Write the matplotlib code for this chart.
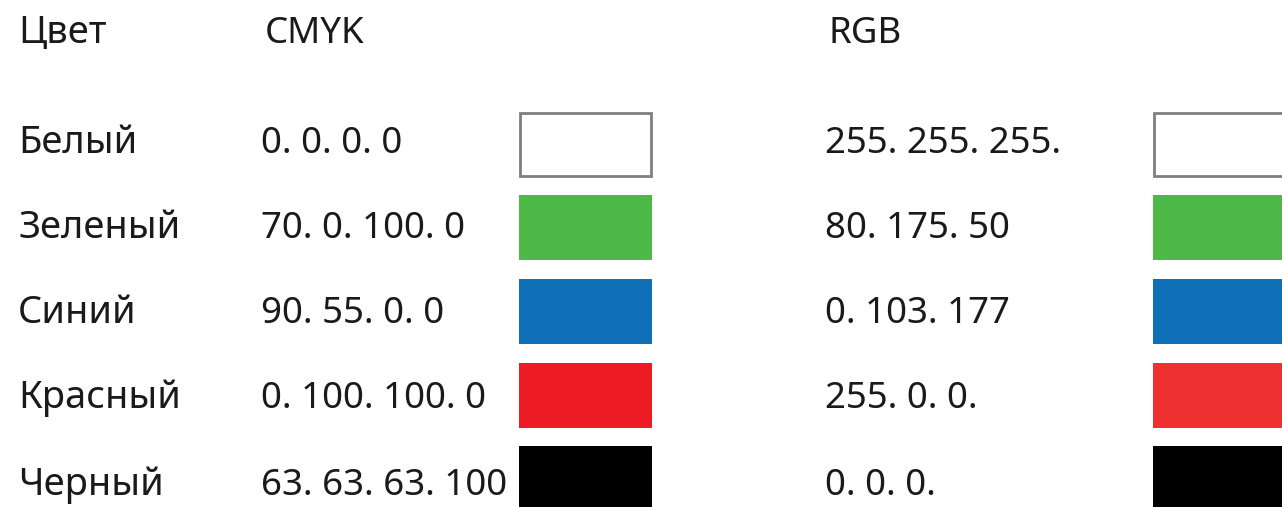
import matplotlib
matplotlib.use("Agg")
import matplotlib.pyplot as plt
from matplotlib.patches import Rectangle

plt.rcParams['font.family'] = ['Noto Sans', 'DejaVu Sans']

headers = ["Цвет", "CMYK", "RGB"]
names = ["Белый", "Зеленый", "Синий", "Красный", "Черный"]
cmyk_values = ["0. 0. 0. 0", "70. 0. 100. 0", "90. 55. 0. 0", "0. 100. 100. 0", "63. 63. 63. 100"]
rgb_values = ["255. 255. 255.", "80. 175. 50", "0. 103. 177", "255. 0. 0.", "0. 0. 0."]
cmyk_colors = ["#FFFFFF", "#4EB848", "#0F6FB7", "#ED1C24", "#000000"]
rgb_colors = ["#FFFFFF", "#4EB848", "#0F6FB7", "#EE3030", "#000000"]

W, H = 1282, 507
fig = plt.figure(figsize=(W / 100, H / 100), dpi=100)
ax = fig.add_axes([0, 0, 1, 1])
ax.set_xlim(0, W)
ax.set_ylim(H, 0)
ax.axis("off")

txt_color = "#1a1a1a"
fs = 26.4
fs_names = 27.4
header_x = [18, 265, 828]
header_fs = [fs_names, fs, fs]
header_base = 43
row_base = [153, 238, 323, 408, 495]
col_name_x, col_cmyk_x, col_rgb_x = 18, 261, 825

for hx, h, hf in zip(header_x, headers, header_fs):
    ax.text(hx, header_base, h, fontsize=hf, color=txt_color, va="baseline", ha="left")

for i, (n, c, r) in enumerate(zip(names, cmyk_values, rgb_values)):
    ax.text(col_name_x, row_base[i], n, fontsize=fs_names, color=txt_color, va="baseline", ha="left")
    ax.text(col_cmyk_x, row_base[i], c, fontsize=fs, color=txt_color, va="baseline", ha="left")
    ax.text(col_rgb_x, row_base[i], r, fontsize=fs, color=txt_color, va="baseline", ha="left")

sw_top = [112, 195, 279, 363, 446]
sw_h = 65
for i in range(len(names)):
    for x0, x1, col in [(519, 652, cmyk_colors[i]), (1153, 1300, rgb_colors[i])]:
        if col.upper() == "#FFFFFF":
            ax.add_patch(Rectangle((x0 + 1, sw_top[i] + 1), x1 - x0 - 2, sw_h - 2,
                                   facecolor="white", edgecolor="#7f7f7f", linewidth=2.0))
        else:
            ax.add_patch(Rectangle((x0, sw_top[i]), x1 - x0, sw_h,
                                   facecolor=col, edgecolor="none"))

fig.savefig("out.png", dpi=100, facecolor="white")
